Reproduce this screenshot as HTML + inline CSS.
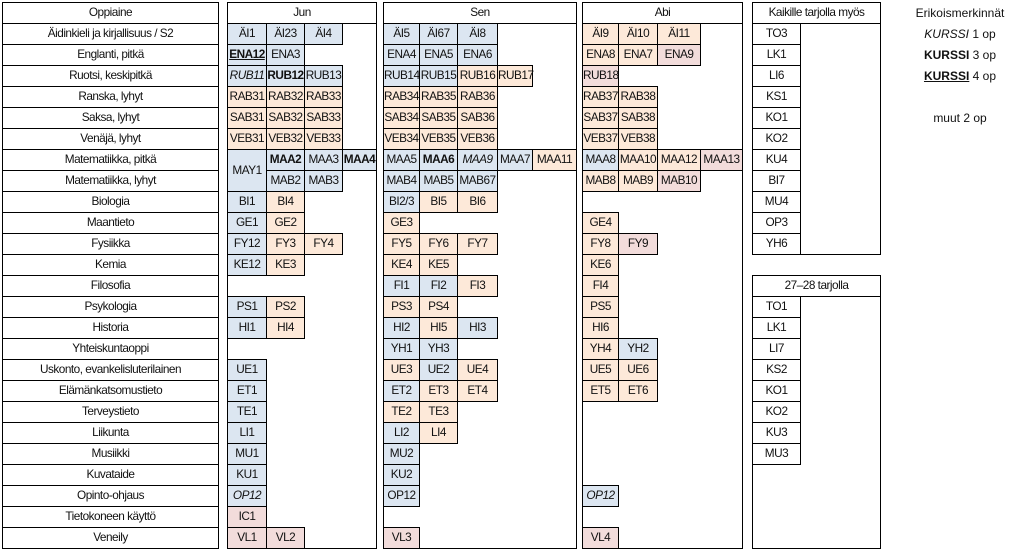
<!DOCTYPE html>
<html><head><meta charset="utf-8"><style>
body{margin:0;width:1014px;height:552px;background:#fff;position:relative;overflow:hidden;font-family:"Liberation Sans",sans-serif;color:#111}
div{position:absolute;box-sizing:border-box}
.c{border:1px solid #000;text-align:center;font-size:11.8px;line-height:19px;white-space:nowrap;letter-spacing:-0.5px}
.bx{border:1px solid #000}
.b{background:#dce6f1}.o{background:#fde9d9}.p{background:#f2dcdb}
.i{font-style:italic}.B{font-weight:bold}.u{text-decoration:underline}
.t{font-size:12px;text-align:center;width:120px;left:900px;line-height:20px}
</style></head><body>
<div class="c" style="left:2px;top:2px;width:217px;height:22px">Oppiaine</div>
<div class="c" style="left:2px;top:23px;width:217px;height:22px">Äidinkieli ja kirjallisuus / S2</div>
<div class="c" style="left:2px;top:44px;width:217px;height:22px">Englanti, pitkä</div>
<div class="c" style="left:2px;top:65px;width:217px;height:22px">Ruotsi, keskipitkä</div>
<div class="c" style="left:2px;top:86px;width:217px;height:22px">Ranska, lyhyt</div>
<div class="c" style="left:2px;top:107px;width:217px;height:22px">Saksa, lyhyt</div>
<div class="c" style="left:2px;top:128px;width:217px;height:22px">Venäjä, lyhyt</div>
<div class="c" style="left:2px;top:149px;width:217px;height:22px">Matematiikka, pitkä</div>
<div class="c" style="left:2px;top:170px;width:217px;height:22px">Matematiikka, lyhyt</div>
<div class="c" style="left:2px;top:191px;width:217px;height:22px">Biologia</div>
<div class="c" style="left:2px;top:212px;width:217px;height:22px">Maantieto</div>
<div class="c" style="left:2px;top:233px;width:217px;height:22px">Fysiikka</div>
<div class="c" style="left:2px;top:254px;width:217px;height:22px">Kemia</div>
<div class="c" style="left:2px;top:275px;width:217px;height:22px">Filosofia</div>
<div class="c" style="left:2px;top:296px;width:217px;height:22px">Psykologia</div>
<div class="c" style="left:2px;top:317px;width:217px;height:22px">Historia</div>
<div class="c" style="left:2px;top:338px;width:217px;height:22px">Yhteiskuntaoppi</div>
<div class="c" style="left:2px;top:359px;width:217px;height:22px">Uskonto, evankelisluterilainen</div>
<div class="c" style="left:2px;top:380px;width:217px;height:22px">Elämänkatsomustieto</div>
<div class="c" style="left:2px;top:401px;width:217px;height:22px">Terveystieto</div>
<div class="c" style="left:2px;top:422px;width:217px;height:22px">Liikunta</div>
<div class="c" style="left:2px;top:443px;width:217px;height:22px">Musiikki</div>
<div class="c" style="left:2px;top:464px;width:217px;height:22px">Kuvataide</div>
<div class="c" style="left:2px;top:485px;width:217px;height:22px">Opinto-ohjaus</div>
<div class="c" style="left:2px;top:506px;width:217px;height:22px">Tietokoneen käyttö</div>
<div class="c" style="left:2px;top:527px;width:217px;height:22px">Veneily</div>

<div class="bx" style="left:227px;top:2px;width:150px;height:547px"></div>
<div class="c" style="left:227px;top:2px;width:150px;height:22px">Jun</div>
<div class="bx" style="left:383px;top:2px;width:194px;height:547px"></div>
<div class="c" style="left:383px;top:2px;width:194px;height:22px">Sen</div>
<div class="bx" style="left:582px;top:2px;width:161px;height:547px"></div>
<div class="c" style="left:582px;top:2px;width:161px;height:22px">Abi</div>

<div class="c b" style="left:227px;top:23px;width:40px;height:22px">ÄI1</div>
<div class="c b" style="left:266px;top:23px;width:39px;height:22px">ÄI23</div>
<div class="c b" style="left:304px;top:23px;width:39px;height:22px">ÄI4</div>
<div class="c b B u" style="left:227px;top:44px;width:40px;height:22px">ENA12</div>
<div class="c b" style="left:266px;top:44px;width:39px;height:22px">ENA3</div>
<div class="c b i" style="left:227px;top:65px;width:40px;height:22px">RUB11</div>
<div class="c b B" style="left:266px;top:65px;width:39px;height:22px">RUB12</div>
<div class="c b" style="left:304px;top:65px;width:39px;height:22px">RUB13</div>
<div class="c o" style="left:227px;top:86px;width:40px;height:22px">RAB31</div>
<div class="c o" style="left:266px;top:86px;width:39px;height:22px">RAB32</div>
<div class="c o" style="left:304px;top:86px;width:39px;height:22px">RAB33</div>
<div class="c o" style="left:227px;top:107px;width:40px;height:22px">SAB31</div>
<div class="c o" style="left:266px;top:107px;width:39px;height:22px">SAB32</div>
<div class="c o" style="left:304px;top:107px;width:39px;height:22px">SAB33</div>
<div class="c o" style="left:227px;top:128px;width:40px;height:22px">VEB31</div>
<div class="c o" style="left:266px;top:128px;width:39px;height:22px">VEB32</div>
<div class="c o" style="left:304px;top:128px;width:39px;height:22px">VEB33</div>
<div class="c b" style="left:227px;top:149px;width:40px;height:43px;line-height:41px">MAY1</div>
<div class="c b B" style="left:266px;top:149px;width:39px;height:22px">MAA2</div>
<div class="c b" style="left:304px;top:149px;width:39px;height:22px">MAA3</div>
<div class="c b B" style="left:342px;top:149px;width:35px;height:22px">MAA4</div>
<div class="c b" style="left:266px;top:170px;width:39px;height:22px">MAB2</div>
<div class="c b" style="left:304px;top:170px;width:39px;height:22px">MAB3</div>
<div class="c b" style="left:227px;top:191px;width:40px;height:22px">BI1</div>
<div class="c o" style="left:266px;top:191px;width:39px;height:22px">BI4</div>
<div class="c b" style="left:227px;top:212px;width:40px;height:22px">GE1</div>
<div class="c o" style="left:266px;top:212px;width:39px;height:22px">GE2</div>
<div class="c b" style="left:227px;top:233px;width:40px;height:22px">FY12</div>
<div class="c o" style="left:266px;top:233px;width:39px;height:22px">FY3</div>
<div class="c o" style="left:304px;top:233px;width:39px;height:22px">FY4</div>
<div class="c b" style="left:227px;top:254px;width:40px;height:22px">KE12</div>
<div class="c o" style="left:266px;top:254px;width:39px;height:22px">KE3</div>
<div class="c b" style="left:227px;top:296px;width:40px;height:22px">PS1</div>
<div class="c o" style="left:266px;top:296px;width:39px;height:22px">PS2</div>
<div class="c b" style="left:227px;top:317px;width:40px;height:22px">HI1</div>
<div class="c o" style="left:266px;top:317px;width:39px;height:22px">HI4</div>
<div class="c b" style="left:227px;top:359px;width:40px;height:22px">UE1</div>
<div class="c b" style="left:227px;top:380px;width:40px;height:22px">ET1</div>
<div class="c b" style="left:227px;top:401px;width:40px;height:22px">TE1</div>
<div class="c b" style="left:227px;top:422px;width:40px;height:22px">LI1</div>
<div class="c b" style="left:227px;top:443px;width:40px;height:22px">MU1</div>
<div class="c b" style="left:227px;top:464px;width:40px;height:22px">KU1</div>
<div class="c b i" style="left:227px;top:485px;width:40px;height:22px">OP12</div>
<div class="c p" style="left:227px;top:506px;width:40px;height:22px">IC1</div>
<div class="c p" style="left:227px;top:527px;width:40px;height:22px">VL1</div>
<div class="c p" style="left:266px;top:527px;width:39px;height:22px">VL2</div>

<div class="c b" style="left:383px;top:23px;width:37px;height:22px">ÄI5</div>
<div class="c b" style="left:419px;top:23px;width:39px;height:22px">ÄI67</div>
<div class="c b" style="left:457px;top:23px;width:41px;height:22px">ÄI8</div>
<div class="c b" style="left:383px;top:44px;width:37px;height:22px">ENA4</div>
<div class="c b" style="left:419px;top:44px;width:39px;height:22px">ENA5</div>
<div class="c b" style="left:457px;top:44px;width:41px;height:22px">ENA6</div>
<div class="c b" style="left:383px;top:65px;width:37px;height:22px">RUB14</div>
<div class="c b" style="left:419px;top:65px;width:39px;height:22px">RUB15</div>
<div class="c o" style="left:457px;top:65px;width:41px;height:22px">RUB16</div>
<div class="c o" style="left:497px;top:65px;width:36px;height:22px">RUB17</div>
<div class="c o" style="left:383px;top:86px;width:37px;height:22px">RAB34</div>
<div class="c o" style="left:419px;top:86px;width:39px;height:22px">RAB35</div>
<div class="c o" style="left:457px;top:86px;width:41px;height:22px">RAB36</div>
<div class="c o" style="left:383px;top:107px;width:37px;height:22px">SAB34</div>
<div class="c o" style="left:419px;top:107px;width:39px;height:22px">SAB35</div>
<div class="c o" style="left:457px;top:107px;width:41px;height:22px">SAB36</div>
<div class="c o" style="left:383px;top:128px;width:37px;height:22px">VEB34</div>
<div class="c o" style="left:419px;top:128px;width:39px;height:22px">VEB35</div>
<div class="c o" style="left:457px;top:128px;width:41px;height:22px">VEB36</div>
<div class="c b" style="left:383px;top:149px;width:37px;height:22px">MAA5</div>
<div class="c b B" style="left:419px;top:149px;width:39px;height:22px">MAA6</div>
<div class="c b i" style="left:457px;top:149px;width:41px;height:22px">MAA9</div>
<div class="c b" style="left:497px;top:149px;width:36px;height:22px">MAA7</div>
<div class="c o" style="left:532px;top:149px;width:45px;height:22px">MAA11</div>
<div class="c b" style="left:383px;top:170px;width:37px;height:22px">MAB4</div>
<div class="c b" style="left:419px;top:170px;width:39px;height:22px">MAB5</div>
<div class="c b" style="left:457px;top:170px;width:41px;height:22px">MAB67</div>
<div class="c b" style="left:383px;top:191px;width:37px;height:22px">BI2/3</div>
<div class="c o" style="left:419px;top:191px;width:39px;height:22px">BI5</div>
<div class="c o" style="left:457px;top:191px;width:41px;height:22px">BI6</div>
<div class="c o" style="left:383px;top:212px;width:37px;height:22px">GE3</div>
<div class="c o" style="left:383px;top:233px;width:37px;height:22px">FY5</div>
<div class="c o" style="left:419px;top:233px;width:39px;height:22px">FY6</div>
<div class="c o" style="left:457px;top:233px;width:41px;height:22px">FY7</div>
<div class="c o" style="left:383px;top:254px;width:37px;height:22px">KE4</div>
<div class="c o" style="left:419px;top:254px;width:39px;height:22px">KE5</div>
<div class="c b" style="left:383px;top:275px;width:37px;height:22px">FI1</div>
<div class="c b" style="left:419px;top:275px;width:39px;height:22px">FI2</div>
<div class="c o" style="left:457px;top:275px;width:41px;height:22px">FI3</div>
<div class="c o" style="left:383px;top:296px;width:37px;height:22px">PS3</div>
<div class="c o" style="left:419px;top:296px;width:39px;height:22px">PS4</div>
<div class="c b" style="left:383px;top:317px;width:37px;height:22px">HI2</div>
<div class="c o" style="left:419px;top:317px;width:39px;height:22px">HI5</div>
<div class="c b" style="left:457px;top:317px;width:41px;height:22px">HI3</div>
<div class="c b" style="left:383px;top:338px;width:37px;height:22px">YH1</div>
<div class="c b" style="left:419px;top:338px;width:39px;height:22px">YH3</div>
<div class="c o" style="left:383px;top:359px;width:37px;height:22px">UE3</div>
<div class="c b" style="left:419px;top:359px;width:39px;height:22px">UE2</div>
<div class="c o" style="left:457px;top:359px;width:41px;height:22px">UE4</div>
<div class="c b" style="left:383px;top:380px;width:37px;height:22px">ET2</div>
<div class="c o" style="left:419px;top:380px;width:39px;height:22px">ET3</div>
<div class="c o" style="left:457px;top:380px;width:41px;height:22px">ET4</div>
<div class="c o" style="left:383px;top:401px;width:37px;height:22px">TE2</div>
<div class="c o" style="left:419px;top:401px;width:39px;height:22px">TE3</div>
<div class="c b" style="left:383px;top:422px;width:37px;height:22px">LI2</div>
<div class="c o" style="left:419px;top:422px;width:39px;height:22px">LI4</div>
<div class="c b" style="left:383px;top:443px;width:37px;height:22px">MU2</div>
<div class="c b" style="left:383px;top:464px;width:37px;height:22px">KU2</div>
<div class="c b" style="left:383px;top:485px;width:37px;height:22px">OP12</div>
<div class="c p" style="left:383px;top:527px;width:37px;height:22px">VL3</div>

<div class="c o" style="left:582px;top:23px;width:37px;height:22px">ÄI9</div>
<div class="c o" style="left:618px;top:23px;width:40px;height:22px">ÄI10</div>
<div class="c o" style="left:657px;top:23px;width:44px;height:22px">ÄI11</div>
<div class="c o" style="left:582px;top:44px;width:37px;height:22px">ENA8</div>
<div class="c o" style="left:618px;top:44px;width:40px;height:22px">ENA7</div>
<div class="c p" style="left:657px;top:44px;width:44px;height:22px">ENA9</div>
<div class="c p" style="left:582px;top:65px;width:37px;height:22px">RUB18</div>
<div class="c o" style="left:582px;top:86px;width:37px;height:22px">RAB37</div>
<div class="c o" style="left:618px;top:86px;width:40px;height:22px">RAB38</div>
<div class="c o" style="left:582px;top:107px;width:37px;height:22px">SAB37</div>
<div class="c o" style="left:618px;top:107px;width:40px;height:22px">SAB38</div>
<div class="c o" style="left:582px;top:128px;width:37px;height:22px">VEB37</div>
<div class="c o" style="left:618px;top:128px;width:40px;height:22px">VEB38</div>
<div class="c b" style="left:582px;top:149px;width:37px;height:22px">MAA8</div>
<div class="c o" style="left:618px;top:149px;width:40px;height:22px">MAA10</div>
<div class="c o" style="left:657px;top:149px;width:44px;height:22px">MAA12</div>
<div class="c p" style="left:700px;top:149px;width:43px;height:22px">MAA13</div>
<div class="c o" style="left:582px;top:170px;width:37px;height:22px">MAB8</div>
<div class="c o" style="left:618px;top:170px;width:40px;height:22px">MAB9</div>
<div class="c p" style="left:657px;top:170px;width:44px;height:22px">MAB10</div>
<div class="c o" style="left:582px;top:212px;width:37px;height:22px">GE4</div>
<div class="c o" style="left:582px;top:233px;width:37px;height:22px">FY8</div>
<div class="c p" style="left:618px;top:233px;width:40px;height:22px">FY9</div>
<div class="c o" style="left:582px;top:254px;width:37px;height:22px">KE6</div>
<div class="c o" style="left:582px;top:275px;width:37px;height:22px">FI4</div>
<div class="c o" style="left:582px;top:296px;width:37px;height:22px">PS5</div>
<div class="c o" style="left:582px;top:317px;width:37px;height:22px">HI6</div>
<div class="c o" style="left:582px;top:338px;width:37px;height:22px">YH4</div>
<div class="c b" style="left:618px;top:338px;width:40px;height:22px">YH2</div>
<div class="c o" style="left:582px;top:359px;width:37px;height:22px">UE5</div>
<div class="c o" style="left:618px;top:359px;width:40px;height:22px">UE6</div>
<div class="c o" style="left:582px;top:380px;width:37px;height:22px">ET5</div>
<div class="c o" style="left:618px;top:380px;width:40px;height:22px">ET6</div>
<div class="c b i" style="left:582px;top:485px;width:37px;height:22px">OP12</div>
<div class="c p" style="left:582px;top:527px;width:37px;height:22px">VL4</div>

<div class="bx" style="left:752px;top:2px;width:129px;height:253px"></div>
<div class="c" style="left:752px;top:2px;width:129px;height:22px">Kaikille tarjolla myös</div>
<div class="c" style="left:752px;top:23px;width:49px;height:22px">TO3</div>
<div class="c" style="left:752px;top:44px;width:49px;height:22px">LK1</div>
<div class="c" style="left:752px;top:65px;width:49px;height:22px">LI6</div>
<div class="c" style="left:752px;top:86px;width:49px;height:22px">KS1</div>
<div class="c" style="left:752px;top:107px;width:49px;height:22px">KO1</div>
<div class="c" style="left:752px;top:128px;width:49px;height:22px">KO2</div>
<div class="c" style="left:752px;top:149px;width:49px;height:22px">KU4</div>
<div class="c" style="left:752px;top:170px;width:49px;height:22px">BI7</div>
<div class="c" style="left:752px;top:191px;width:49px;height:22px">MU4</div>
<div class="c" style="left:752px;top:212px;width:49px;height:22px">OP3</div>
<div class="c" style="left:752px;top:233px;width:49px;height:22px">YH6</div>

<div class="bx" style="left:752px;top:275px;width:129px;height:274px"></div>
<div class="c" style="left:752px;top:275px;width:129px;height:22px">27–28 tarjolla</div>
<div class="c" style="left:752px;top:296px;width:49px;height:22px">TO1</div>
<div class="c" style="left:752px;top:317px;width:49px;height:22px">LK1</div>
<div class="c" style="left:752px;top:338px;width:49px;height:22px">LI7</div>
<div class="c" style="left:752px;top:359px;width:49px;height:22px">KS2</div>
<div class="c" style="left:752px;top:380px;width:49px;height:22px">KO1</div>
<div class="c" style="left:752px;top:401px;width:49px;height:22px">KO2</div>
<div class="c" style="left:752px;top:422px;width:49px;height:22px">KU3</div>
<div class="c" style="left:752px;top:443px;width:49px;height:22px">MU3</div>

<div class="t" style="top:3px">Erikoismerkinnät</div>
<div class="t" style="top:24px"><i>KURSSI</i> 1 op</div>
<div class="t" style="top:45px"><b>KURSSI</b> 3 op</div>
<div class="t" style="top:66px"><b><u>KURSSI</u></b> 4 op</div>
<div class="t" style="top:108px">muut 2 op</div>
</body></html>
